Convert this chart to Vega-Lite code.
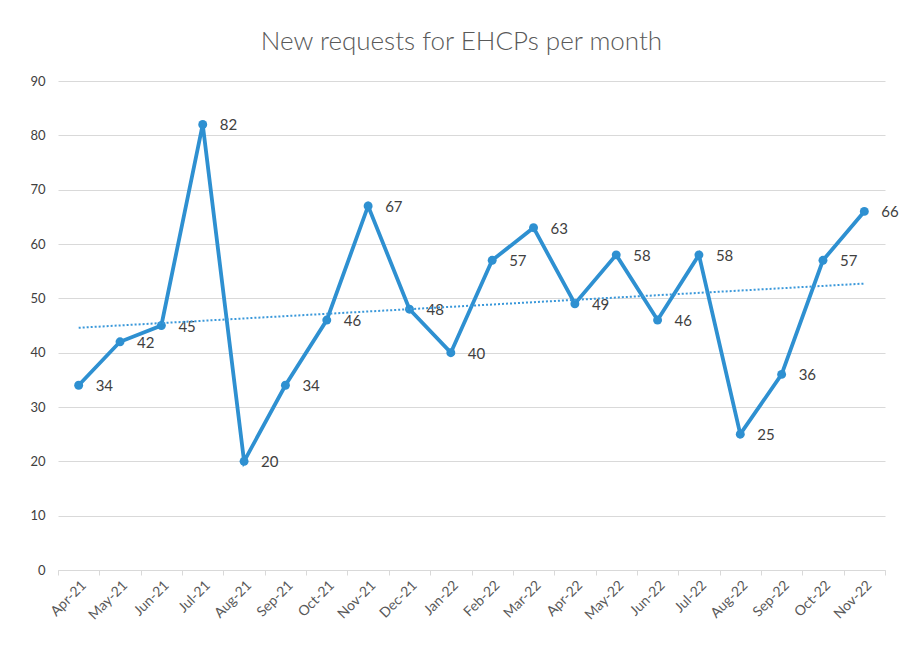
{
  "$schema": "https://vega.github.io/schema/vega-lite/v6.json",
  "width": 827,
  "height": 489,
  "autosize": "none",
  "padding": {"left": 58, "top": 81, "right": 27, "bottom": 80},
  "background": "white",
  "title": {"text": "New requests for EHCPs per month", "font": "Lato", "fontSize": 26, "fontWeight": 300, "color": "#595959", "offset": 20, "anchor": "middle", "dx": -10},
  "config": {"view": {"stroke": null}},
  "data": {"values": [
    {"month": "Apr-21", "requests": 34},
    {"month": "May-21", "requests": 42},
    {"month": "Jun-21", "requests": 45},
    {"month": "Jul-21", "requests": 82},
    {"month": "Aug-21", "requests": 20},
    {"month": "Sep-21", "requests": 34},
    {"month": "Oct-21", "requests": 46},
    {"month": "Nov-21", "requests": 67},
    {"month": "Dec-21", "requests": 48},
    {"month": "Jan-22", "requests": 40},
    {"month": "Feb-22", "requests": 57},
    {"month": "Mar-22", "requests": 63},
    {"month": "Apr-22", "requests": 49},
    {"month": "May-22", "requests": 58},
    {"month": "Jun-22", "requests": 46},
    {"month": "Jul-22", "requests": 58},
    {"month": "Aug-22", "requests": 25},
    {"month": "Sep-22", "requests": 36},
    {"month": "Oct-22", "requests": 57},
    {"month": "Nov-22", "requests": 66}
  ]},
  "layer": [
    {
      "encoding": {
        "x": {"field": "month", "type": "ordinal", "sort": null,
          "scale": {"type": "band", "paddingInner": 0, "paddingOuter": 0},
          "axis": {"title": null, "tickBand": "extent", "grid": false, "domainColor": "#d9d9d9", "tickColor": "#d9d9d9", "tickSize": 5, "labelAngle": -45, "labelFont": "Lato", "labelFontSize": 14, "labelColor": "#595959", "labelPadding": 3}},
        "y": {"field": "requests", "type": "quantitative",
          "scale": {"domain": [0, 90]},
          "axis": {"title": null, "values": [0,10,20,30,40,50,60,70,80,90], "grid": true, "gridColor": "#d9d9d9", "domain": false, "ticks": false, "labelPadding": 13, "labelFont": "Lato", "labelFontSize": 13, "labelColor": "#404040"}}
      },
      "layer": [
        {"mark": {"type": "line", "color": "#2E90D1", "strokeWidth": 3.8}},
        {"mark": {"type": "point", "filled": true, "opacity": 1, "color": "#2E90D1", "size": 80}},
        {"mark": {"type": "text", "align": "left", "baseline": "middle", "dx": 17, "dy": 1, "font": "Lato", "fontSize": 15, "color": "#404040"},
         "encoding": {"text": {"field": "requests", "type": "quantitative"}}}
      ]
    },
    {
      "transform": [
        {"window": [{"op": "row_number", "as": "i"}]},
        {"regression": "requests", "on": "i"}
      ],
      "mark": {"type": "line", "color": "#3A98DA", "strokeWidth": 2, "strokeDash": [2, 2]},
      "encoding": {
        "x": {"field": "i", "type": "quantitative", "scale": {"domain": [0.5, 20.5], "nice": false, "zero": false}, "axis": null},
        "y": {"field": "requests", "type": "quantitative"}
      }
    }
  ],
  "resolve": {"scale": {"x": "independent"}}
}
